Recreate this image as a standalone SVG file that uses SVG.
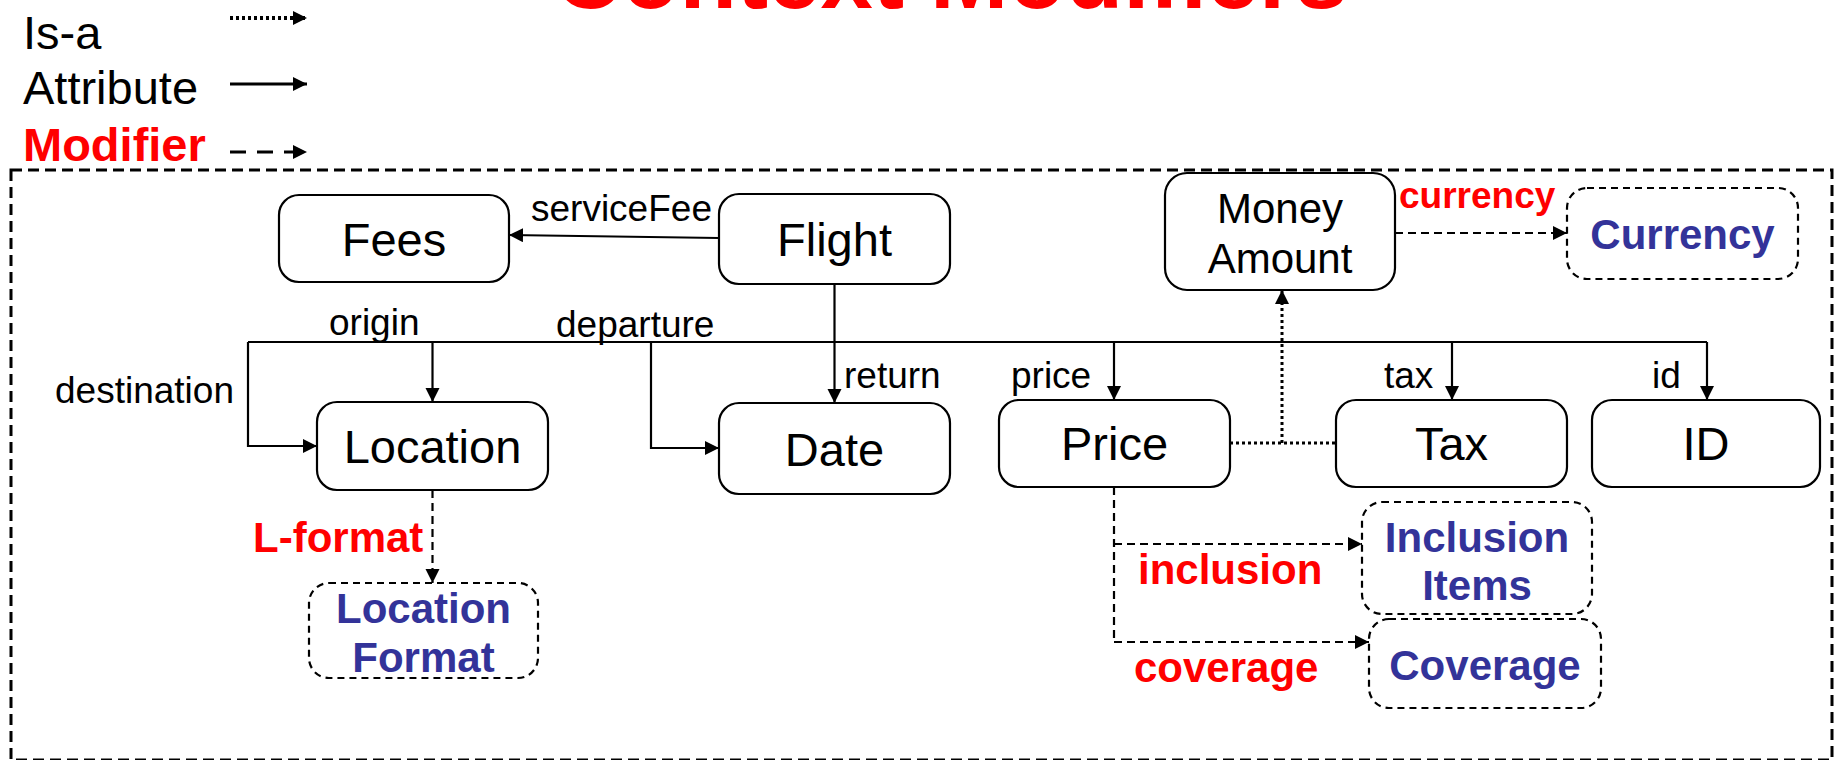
<svg xmlns="http://www.w3.org/2000/svg" width="1843" height="760" viewBox="0 0 1843 760">
<defs>
<marker id="ah" markerWidth="15" markerHeight="15" refX="14" refY="7" orient="auto" markerUnits="userSpaceOnUse">
<path d="M0,0 L14,7 L0,14 z" fill="#000"/>
</marker>
<style>
text{font-family:"Liberation Sans",Arial,sans-serif;}
.node{fill:#fff;stroke:#000;stroke-width:2.2;}
.mnode{fill:#fff;stroke:#000;stroke-width:2.2;stroke-dasharray:7,5;}
.nl{font-size:47px;fill:#000;text-anchor:middle;}
.nl2{font-size:42px;fill:#000;text-anchor:middle;}
.bl{font-size:42px;fill:#333399;font-weight:bold;text-anchor:middle;}
.el{font-size:37px;fill:#000;}
.rl{font-size:42px;fill:#ff0000;font-weight:bold;}
.attr{fill:none;stroke:#000;stroke-width:2.2;}
.isa{fill:none;stroke:#000;stroke-width:3;stroke-dasharray:3,3;}
.mod{fill:none;stroke:#000;stroke-width:2.2;stroke-dasharray:8,5;}
.leg{font-size:47px;fill:#000;}
</style>
</defs>
<rect width="1843" height="760" fill="#fff"/>
<text x="951" y="8" style="font-size:94px;font-weight:bold;fill:#ff0000;text-anchor:middle">Context Modifiers</text>
<g id="legend">
<text class="leg" x="23" y="49">Is-a</text>
<text class="leg" x="23" y="104">Attribute</text>
<text class="leg" x="23" y="161" style="fill:#ff0000;font-weight:bold">Modifier</text>
<line x1="230" y1="18" x2="307" y2="18" stroke="#000" stroke-width="4" stroke-dasharray="3,3" marker-end="url(#ah)"/>
<line x1="230" y1="84" x2="307" y2="84" stroke="#000" stroke-width="3" marker-end="url(#ah)"/>
<line x1="230" y1="152" x2="307" y2="152" stroke="#000" stroke-width="3" stroke-dasharray="16,11" marker-end="url(#ah)"/>
</g>
<rect id="frame" x="11" y="170" width="1821" height="590" fill="none" stroke="#000" stroke-width="3" stroke-dasharray="11,6"/>
<g id="connectors">
<line class="attr" x1="719" y1="238" x2="509" y2="235" marker-end="url(#ah)"/>
<text class="el" x="531" y="221">serviceFee</text>
<polyline class="attr" points="834.5,284 834.5,342 248,342"/>
<polyline class="attr" points="834.5,342 1707,342"/>
<line class="attr" x1="834.5" y1="342" x2="834.5" y2="403" marker-end="url(#ah)"/>
<polyline class="attr" points="248,342 248,446 317,446" marker-end="url(#ah)"/>
<line class="attr" x1="432.5" y1="342" x2="432.5" y2="402" marker-end="url(#ah)"/>
<polyline class="attr" points="651,342 651,448 719,448" marker-end="url(#ah)"/>
<line class="attr" x1="1114" y1="342" x2="1114" y2="400" marker-end="url(#ah)"/>
<line class="attr" x1="1452" y1="342" x2="1452" y2="400" marker-end="url(#ah)"/>
<line class="attr" x1="1707" y1="342" x2="1707" y2="400" marker-end="url(#ah)"/>
<text class="el" x="55" y="403">destination</text>
<text class="el" x="329" y="335">origin</text>
<text class="el" x="556" y="337">departure</text>
<text class="el" x="844" y="388">return</text>
<text class="el" x="1011" y="388">price</text>
<text class="el" x="1384" y="388">tax</text>
<text class="el" x="1652" y="388">id</text>
<line class="isa" x1="1230" y1="443" x2="1336" y2="443"/>
<line class="isa" x1="1282" y1="443" x2="1282" y2="290" marker-end="url(#ah)"/>
<line class="mod" x1="1395" y1="233" x2="1567" y2="233" marker-end="url(#ah)"/>
<text class="rl" x="1399" y="208" style="font-size:37px">currency</text>
<line class="mod" x1="432.5" y1="490" x2="432.5" y2="583" marker-end="url(#ah)"/>
<text class="rl" x="253" y="552">L-format</text>
<polyline class="mod" points="1114,487 1114,642"/>
<line class="mod" x1="1114" y1="544" x2="1362" y2="544" marker-end="url(#ah)"/>
<line class="mod" x1="1114" y1="642" x2="1369" y2="642" marker-end="url(#ah)"/>
<text class="rl" x="1138" y="584">inclusion</text>
<text class="rl" x="1134" y="682">coverage</text>
</g>
<g id="fees"><rect class="node" x="279" y="195" width="230" height="87" rx="20"/><text class="nl" x="394" y="256">Fees</text></g>
<g id="flight"><rect class="node" x="719" y="194" width="231" height="90" rx="20"/><text class="nl" x="834.5" y="256">Flight</text></g>
<g id="money"><rect class="node" x="1165" y="173" width="230" height="117" rx="22"/><text class="nl2" x="1280" y="223">Money</text><text class="nl2" x="1280" y="273">Amount</text></g>
<g id="currency"><rect class="mnode" x="1567" y="188" width="231" height="91" rx="20"/><text class="bl" x="1682.5" y="249">Currency</text></g>
<g id="location"><rect class="node" x="317" y="402" width="231" height="88" rx="20"/><text class="nl" x="432.5" y="463">Location</text></g>
<g id="date"><rect class="node" x="719" y="403" width="231" height="91" rx="20"/><text class="nl" x="834.5" y="466">Date</text></g>
<g id="price"><rect class="node" x="999" y="400" width="231" height="87" rx="20"/><text class="nl" x="1114.5" y="460">Price</text></g>
<g id="tax"><rect class="node" x="1336" y="400" width="231" height="87" rx="20"/><text class="nl" x="1451.5" y="460">Tax</text></g>
<g id="id"><rect class="node" x="1592" y="400" width="228" height="87" rx="20"/><text class="nl" x="1706" y="460">ID</text></g>
<g id="locformat"><rect class="mnode" x="309" y="583" width="229" height="95" rx="20"/><text class="bl" x="423.5" y="623">Location</text><text class="bl" x="423.5" y="672">Format</text></g>
<g id="inclusion"><rect class="mnode" x="1362" y="502" width="230" height="112" rx="20"/><text class="bl" x="1477" y="552">Inclusion</text><text class="bl" x="1477" y="600">Items</text></g>
<g id="coverage"><rect class="mnode" x="1369" y="619" width="232" height="89" rx="20"/><text class="bl" x="1485" y="680">Coverage</text></g>
</svg>
